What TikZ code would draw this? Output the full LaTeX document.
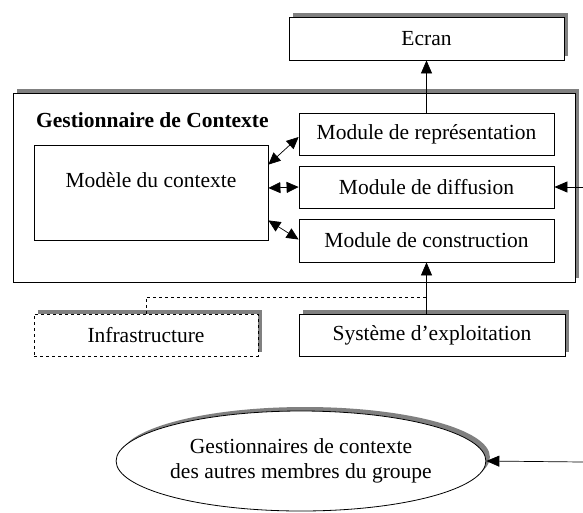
\documentclass[tikz,border=0pt]{standalone}
\usepackage{fontspec}
\setmainfont{Liberation Serif}
\usetikzlibrary{arrows.meta,shapes.geometric,calc}
\begin{document}
\begin{tikzpicture}[x=1pt,y=-1pt,
  every node/.style={font=\fontsize{21.5}{25}\selectfont, inner sep=0pt},
  shad/.style={preaction={fill=black!50, transform canvas={xshift=4pt,yshift=4pt}}},
  box/.style={draw, fill=white, line width=0.8pt, shad},
  plainbox/.style={draw, fill=white, line width=0.8pt},
  tip/.style={-{Triangle[length=13pt,width=11pt]}},
  dtip/.style={{Triangle[length=12pt,width=11pt]}-{Triangle[length=12pt,width=11pt]}},
  conn/.style={line width=0.7pt}
]
\useasboundingbox (0,0) rectangle (583,512);
% main container
\node[box, minimum width=562pt, minimum height=189pt] (main) at (294,187.5) {};
\node[anchor=west, font=\fontsize{21.5}{25}\selectfont\bfseries] (title) at (36,120) {Gestionnaire de Contexte};
% boxes
\node[box, minimum width=275pt, minimum height=43pt] (ecran) at (426.5,38.5) {Ecran};
\node[plainbox, minimum width=234pt, text height=42pt, text depth=53pt] (mod) at (151,192.5) {Modèle du contexte};
\node[plainbox, minimum width=255pt, minimum height=42pt] (rep) at (426.5,134) {Module de représentation};
\node[plainbox, minimum width=255pt, minimum height=42pt] (diff) at (426.5,187) {Module de diffusion};
\node[plainbox, minimum width=255pt, minimum height=43pt] (cons) at (426.5,240.5) {Module de construction};
\node[box, dashed, minimum width=224pt, minimum height=42pt] (infra) at (146,335) {Infrastructure};
\node[box, minimum width=266pt, minimum height=42pt] (sys) at (432,335) {Système d’exploitation};
\node[ellipse, draw, fill=white, line width=0.8pt, shad, minimum width=301pt, minimum height=100pt, align=center] (ell) at (301,461) {Gestionnaires de contexte\\des autres membres du groupe};
% free ends
\coordinate (r1) at (583,187);
\coordinate (r2) at (583,462);
\coordinate (j) at (427,297);
% connectors
\draw[conn, tip] (rep.north) -- (ecran.south);
\draw[conn, dtip] ($(mod.north east)+(0,20)$) -- ($(rep.west)+(0,3)$);
\draw[conn, dtip] ($(mod.east)+(0,-4.5)$) -- (diff.west);
\draw[conn, dtip] ($(mod.south east)+(0,-20)$) -- ($(cons.west)+(0,-1)$);
\draw[conn, tip] (r1) -- (diff.east);
\draw[conn, tip] (sys.north -| cons.south) -- (cons.south);
\draw[conn, dashed] (infra.north) |- (j);
\draw[conn, tip] (r2) -- (ell.east);
\end{tikzpicture}
\end{document}
